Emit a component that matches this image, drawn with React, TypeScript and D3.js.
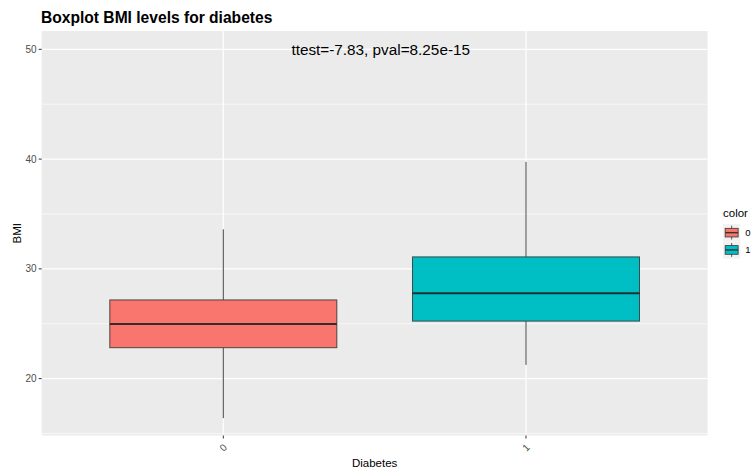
import React from "react";
import * as d3 from "d3";

const categories = ["0", "1"];
const whiskerLow = [16.4, 21.25];
const q1 = [22.82, 25.24];
const medians = [24.98, 27.79];
const q3 = [27.17, 31.09];
const whiskerHigh = [33.6, 39.75];
const fills = ["#F8766D", "#00BFC4"];
const yTicks = [20, 30, 40, 50];
const yMinorTicks = [15, 25, 35, 45];
const annotationText = "ttest=-7.83, pval=8.25e-15";
const annotationY = 50;
const annotationX = 1.52;

const W = 755;
const H = 473;
const panel = { left: 41.7, right: 707.6, top: 31, bottom: 435.5 };
const FONT = "'Liberation Sans', Arial, Helvetica, sans-serif";

export default function App() {
  const y = d3.scaleLinear().domain([14.82, 51.67]).range([panel.bottom, panel.top]);
  const x = d3
    .scaleLinear()
    .domain([1 - 0.6, categories.length + 0.6])
    .range([panel.left, panel.right]);
  const unit = x(2) - x(1);
  const boxW = unit * 0.75;

  const keyX = 723;
  const keyTop = 224;
  const keySize = 17.3;

  return (
    <svg width={W} height={H} style={{ position: "absolute", left: 0, top: 0, background: "#fff" }} fontFamily={FONT}>
      <rect x={0} y={0} width={W} height={H} fill="#fff" />
      <rect
        x={panel.left}
        y={panel.top}
        width={panel.right - panel.left}
        height={panel.bottom - panel.top}
        fill="#EBEBEB"
      />
      {yMinorTicks.map((t) => (
        <line key={"mn" + t} x1={panel.left} x2={panel.right} y1={y(t)} y2={y(t)} stroke="#fff" strokeWidth={0.6} />
      ))}
      {yTicks.map((t) => (
        <line key={"mj" + t} x1={panel.left} x2={panel.right} y1={y(t)} y2={y(t)} stroke="#fff" strokeWidth={1.2} />
      ))}
      {categories.map((c, i) => (
        <line key={"vx" + c} x1={x(i + 1)} x2={x(i + 1)} y1={panel.top} y2={panel.bottom} stroke="#fff" strokeWidth={1.2} />
      ))}

      {categories.map((c, i) => {
        const cx = x(i + 1);
        return (
          <g key={"box" + c}>
            <line x1={cx} x2={cx} y1={y(whiskerHigh[i])} y2={y(q3[i])} stroke="#444" strokeWidth={1} />
            <line x1={cx} x2={cx} y1={y(q1[i])} y2={y(whiskerLow[i])} stroke="#444" strokeWidth={1} />
            <rect
              x={cx - boxW / 2}
              y={y(q3[i])}
              width={boxW}
              height={y(q1[i]) - y(q3[i])}
              fill={fills[i]}
              stroke="#333"
              strokeWidth={1}
              strokeOpacity={0.85}
            />
            <line x1={cx - boxW / 2} x2={cx + boxW / 2} y1={y(medians[i])} y2={y(medians[i])} stroke="#222" strokeWidth={2} strokeOpacity={0.9} />
          </g>
        );
      })}

      <text x={x(annotationX)} y={y(annotationY)} textAnchor="middle" dominantBaseline="central" fontSize={15.3} fill="#000">
        {annotationText}
      </text>

      {yTicks.map((t) => (
        <g key={"yt" + t}>
          <line x1={panel.left - 3} x2={panel.left} y1={y(t)} y2={y(t)} stroke="#333" strokeWidth={1} />
          <text x={panel.left - 5} y={y(t)} textAnchor="end" dominantBaseline="central" fontSize={10} fill="#4D4D4D">
            {t}
          </text>
        </g>
      ))}
      {categories.map((c, i) => (
        <g key={"xt" + c}>
          <line x1={x(i + 1)} x2={x(i + 1)} y1={panel.bottom} y2={panel.bottom + 3} stroke="#333" strokeWidth={1} />
          <text
            x={x(i + 1)}
            y={panel.bottom + 12}
            textAnchor="middle"
            dominantBaseline="central"
            fontSize={10}
            fill="#4D4D4D"
            transform={`rotate(-45, ${x(i + 1)}, ${panel.bottom + 12})`}
          >
            {c}
          </text>
        </g>
      ))}

      <text x={(panel.left + panel.right) / 2} y={467} textAnchor="middle" fontSize={11.5} fill="#000">
        Diabetes
      </text>
      <text
        x={0}
        y={0}
        transform={`translate(21, ${(panel.top + panel.bottom) / 2}) rotate(-90)`}
        textAnchor="middle"
        fontSize={11.5}
        fill="#000"
      >
        BMI
      </text>

      <text x={41} y={22.5} fontSize={15.6} fontWeight="bold" fill="#000">
        Boxplot BMI levels for diabetes
      </text>

      <text x={keyX} y={217} fontSize={11.5} fill="#000">
        color
      </text>
      {categories.map((c, i) => {
        const ky = keyTop + i * keySize;
        const kcx = keyX + keySize / 2;
        return (
          <g key={"lg" + c}>
            <rect x={keyX} y={ky} width={keySize} height={keySize} fill="#F2F2F2" />
            <line x1={kcx} x2={kcx} y1={ky + keySize * 0.1} y2={ky + keySize * 0.9} stroke="#333" strokeWidth={0.8} />
            <rect
              x={keyX + keySize * 0.125}
              y={ky + keySize * 0.25}
              width={keySize * 0.75}
              height={keySize * 0.5}
              fill={fills[i]}
              stroke="#333"
              strokeWidth={0.8}
            />
            <line
              x1={keyX + keySize * 0.125}
              x2={keyX + keySize * 0.875}
              y1={ky + keySize / 2}
              y2={ky + keySize / 2}
              stroke="#333"
              strokeWidth={1.4}
            />
            <text x={keyX + keySize + 5} y={ky + keySize / 2} dominantBaseline="central" fontSize={9.5} fill="#000">
              {c}
            </text>
          </g>
        );
      })}
    </svg>
  );
}
